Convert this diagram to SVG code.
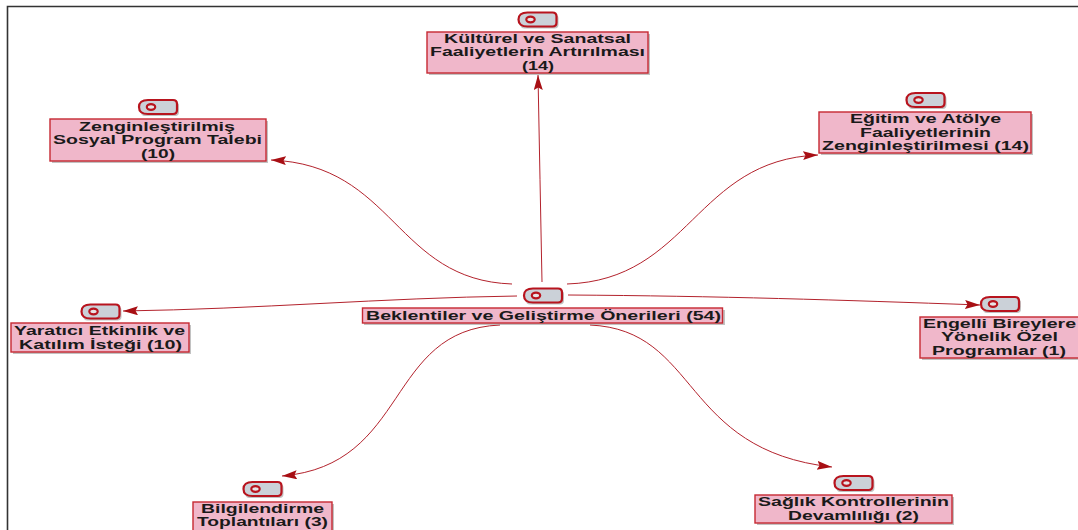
<svg xmlns="http://www.w3.org/2000/svg" width="1078" height="530" viewBox="0 0 1078 530">
<style>
.box{fill:#f0b7ca;stroke:#c62832;stroke-width:1.4}
.shadow{fill:#8f8f8f;opacity:.55}
.ic{fill:#cbd1d8;stroke:#b8141e;stroke-width:2.2}
.dot{fill:#e8e4e6;stroke:#b8141e;stroke-width:2.2}
.t{font-family:"Liberation Sans",Arial,sans-serif;font-size:12px;font-weight:bold;fill:#1a1a1a}
.c{fill:none;stroke:#b3222c;stroke-width:1}
.frame{fill:none;stroke:#333333;stroke-width:1.6}
</style>
<defs>
<marker id="arr" markerUnits="userSpaceOnUse" markerWidth="16" markerHeight="10" refX="15" refY="4.500" orient="auto">
<path d="M0,0 L15,4.500 L0,9 L2.500,4.500 Z" fill="#a80f14"/>
</marker>
<g id="icon">
<rect class="shadow" x="2" y="2" width="38" height="14" rx="4"/>
<path class="ic" d="M9,0 H34 Q38,0 38,4 V10 Q38,14 34,14 H9 Q0,14 0,7 Q0,0 9,0 Z"/>
<ellipse class="dot" cx="12" cy="7" rx="4.200" ry="2.800"/>
</g>
</defs>
<path class="frame" d="M1078,6.500 H7.500 V530"/>
<g id="connectors">
<path class="c" marker-end="url(#arr)" d="M542,282 Q540,180 538,75"/>
<path class="c" marker-end="url(#arr)" d="M512,284 C395,280 395,165 271,160"/>
<path class="c" marker-end="url(#arr)" d="M567,284 C690,280 695,160 818,155"/>
<path class="c" marker-end="url(#arr)" d="M517,296 C380,298 260,309 123,311"/>
<path class="c" marker-end="url(#arr)" d="M568,295 C720,296 840,300 980,305"/>
<path class="c" marker-end="url(#arr)" d="M500,325 C385,330 410,465 282,476"/>
<path class="c" marker-end="url(#arr)" d="M590,325 C700,330 680,450 832,467"/>
</g>
<g id="node-center">
<use href="#icon" x="524" y="288.500"/>
<rect class="shadow" x="364" y="310" width="361" height="15"/>
<rect class="box" x="362.500" y="308" width="360" height="15"/>
<text class="t" x="366" y="319.500" textLength="355" lengthAdjust="spacingAndGlyphs">Beklentiler ve Geliştirme Önerileri (54)</text>
</g>
<g id="node-kulturel">
<use href="#icon" x="518.500" y="12.500"/>
<rect class="shadow" x="429" y="34" width="221" height="41"/>
<rect class="box" x="427" y="32" width="221" height="41"/>
<text class="t" x="444" y="42.500" textLength="187" lengthAdjust="spacingAndGlyphs">Kültürel ve Sanatsal</text>
<text class="t" x="430" y="56" textLength="215" lengthAdjust="spacingAndGlyphs">Faaliyetlerin Artırılması</text>
<text class="t" x="522" y="69.500" textLength="32" lengthAdjust="spacingAndGlyphs">(14)</text>
</g>
<g id="node-zengin">
<use href="#icon" x="139" y="100"/>
<rect class="shadow" x="52" y="121" width="216" height="42"/>
<rect class="box" x="50" y="119" width="216" height="42"/>
<text class="t" x="79" y="130.500" textLength="156" lengthAdjust="spacingAndGlyphs">Zenginleştirilmiş</text>
<text class="t" x="53" y="144" textLength="209" lengthAdjust="spacingAndGlyphs">Sosyal Program Talebi</text>
<text class="t" x="141" y="157.500" textLength="34" lengthAdjust="spacingAndGlyphs">(10)</text>
</g>
<g id="node-egitim">
<use href="#icon" x="906.500" y="93"/>
<rect class="shadow" x="821" y="114" width="212" height="41"/>
<rect class="box" x="819" y="112" width="212" height="41"/>
<text class="t" x="850" y="123" textLength="151" lengthAdjust="spacingAndGlyphs">Eğitim ve Atölye</text>
<text class="t" x="860" y="136.500" textLength="131" lengthAdjust="spacingAndGlyphs">Faaliyetlerinin</text>
<text class="t" x="822" y="150" textLength="207" lengthAdjust="spacingAndGlyphs">Zenginleştirilmesi (14)</text>
</g>
<g id="node-yaratici">
<use href="#icon" x="81.500" y="304.500"/>
<rect class="shadow" x="13" y="325" width="178" height="29"/>
<rect class="box" x="11" y="323" width="178" height="29"/>
<text class="t" x="14" y="335" textLength="171" lengthAdjust="spacingAndGlyphs">Yaratıcı Etkinlik ve</text>
<text class="t" x="19" y="349" textLength="163" lengthAdjust="spacingAndGlyphs">Katılım İsteği (10)</text>
</g>
<g id="node-engelli">
<use href="#icon" x="981" y="297"/>
<rect class="shadow" x="922" y="319" width="160" height="41"/>
<rect class="box" x="920" y="317" width="160" height="41"/>
<text class="t" x="923" y="327.500" textLength="153" lengthAdjust="spacingAndGlyphs">Engelli Bireylere</text>
<text class="t" x="941" y="341" textLength="117" lengthAdjust="spacingAndGlyphs">Yönelik Özel</text>
<text class="t" x="932" y="354.500" textLength="134" lengthAdjust="spacingAndGlyphs">Programlar (1)</text>
</g>
<g id="node-bilgi">
<use href="#icon" x="243.500" y="482"/>
<rect class="shadow" x="195" y="504" width="139" height="28"/>
<rect class="box" x="193" y="502" width="139" height="30"/>
<text class="t" x="201" y="512.500" textLength="123" lengthAdjust="spacingAndGlyphs">Bilgilendirme</text>
<text class="t" x="197" y="526" textLength="131" lengthAdjust="spacingAndGlyphs">Toplantıları (3)</text>
</g>
<g id="node-saglik">
<use href="#icon" x="834.500" y="476"/>
<rect class="shadow" x="757" y="497" width="197" height="28"/>
<rect class="box" x="755" y="495" width="197" height="28"/>
<text class="t" x="758" y="506" textLength="191" lengthAdjust="spacingAndGlyphs">Sağlık Kontrollerinin</text>
<text class="t" x="788" y="520" textLength="131" lengthAdjust="spacingAndGlyphs">Devamlılığı (2)</text>
</g>
</svg>
